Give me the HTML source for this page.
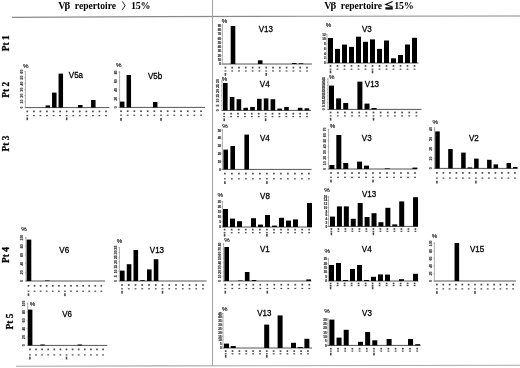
<!DOCTYPE html>
<html><head><meta charset="utf-8"><style>
html,body{margin:0;padding:0;background:#fff;overflow:hidden;width:520px;height:368px;}
svg{display:block;filter:blur(0.35px);}
.hd{font-family:"Liberation Serif",serif;font-weight:bold;font-size:10px;fill:#000;}
.pt{font-family:"Liberation Serif",serif;font-weight:bold;font-size:9.4px;fill:#000;stroke:#000;stroke-width:0.25px;}
.ti{font-family:"Liberation Sans",sans-serif;font-size:8.8px;fill:#000;stroke:#000;stroke-width:0.3px;}
.pc{font-family:"Liberation Sans",sans-serif;font-size:6.2px;fill:#000;stroke:#000;stroke-width:0.12px;}
.yt{font-family:"Liberation Sans",sans-serif;font-weight:bold;font-size:3.4px;fill:#222;stroke:#444;stroke-width:0.2px;text-anchor:middle;}
.yt[text-anchor=end]{text-anchor:end;}
.xd{fill:#4a4a4a;}
</style></head><body>
<svg width="520" height="368" viewBox="0 0 520 368">
<rect width="520" height="368" fill="#fff"/>
<polyline points="12,17.35 158,16.6 308,16.25 520,16.0" fill="none" stroke="#8a8a8a" stroke-width="1.1"/>
<line x1="212.5" y1="0" x2="212.5" y2="366" stroke="#a0a0a0" stroke-width="1"/>
<polyline points="16,366.3 160,365.9 520,365.3" fill="none" stroke="#a8a8a8" stroke-width="1.1"/>
<text x="58.2" y="9" class="hd">V</text>
<text x="64.6" y="9" class="hd" style="font-size:11px">β</text>
<text x="74.8" y="9" class="hd" textLength="41.3" lengthAdjust="spacingAndGlyphs">repertoire</text>
<text x="324.2" y="9" class="hd">V</text>
<text x="330.6" y="9" class="hd" style="font-size:11px">β</text>
<text x="340.8" y="9" class="hd" textLength="41.3" lengthAdjust="spacingAndGlyphs">repertoire</text>
<path d="M122.2 1.4 Q124.2 4 125 5.6 Q124.2 7.4 122.2 9.8" fill="none" stroke="#000" stroke-width="0.9"/>
<text x="131.0" y="9" class="hd" letter-spacing="-0.2">15%</text>
<path d="M392.6 1.6 L385.7 4.4 L392.6 7.0" fill="none" stroke="#000" stroke-width="1.1"/>
<rect x="385.4" y="7.2" width="7.4" height="2.4" fill="#111"/>
<text x="394.3" y="9" class="hd" letter-spacing="-0.25">15%</text>
<text transform="translate(8.6,43.2) rotate(-90)" class="pt" text-anchor="middle">Pt 1</text>
<text transform="translate(8.6,89.8) rotate(-90)" class="pt" text-anchor="middle">Pt 2</text>
<text transform="translate(8.6,143.5) rotate(-90)" class="pt" text-anchor="middle">Pt 3</text>
<text transform="translate(8.6,255) rotate(-90)" class="pt" text-anchor="middle">Pt 4</text>
<text transform="translate(12.8,321.6) rotate(-90)" class="pt" text-anchor="middle">Pt 5</text>
<line x1="222.4" y1="24" x2="222.4" y2="64.5" stroke="#777" stroke-width="0.6"/>
<line x1="222.4" y1="64" x2="312" y2="64" stroke="#555" stroke-width="1.0"/>
<line x1="221.4" y1="25.80" x2="222.4" y2="25.80" stroke="#777" stroke-width="0.5"/>
<text x="221.10" y="26.90" class="yt" text-anchor="end" style="font-size:3.1px">90</text>
<line x1="221.4" y1="30.04" x2="222.4" y2="30.04" stroke="#777" stroke-width="0.5"/>
<text x="221.10" y="31.14" class="yt" text-anchor="end" style="font-size:3.1px">80</text>
<line x1="221.4" y1="34.29" x2="222.4" y2="34.29" stroke="#777" stroke-width="0.5"/>
<text x="221.10" y="35.39" class="yt" text-anchor="end" style="font-size:3.1px">70</text>
<line x1="221.4" y1="38.53" x2="222.4" y2="38.53" stroke="#777" stroke-width="0.5"/>
<text x="221.10" y="39.63" class="yt" text-anchor="end" style="font-size:3.1px">60</text>
<line x1="221.4" y1="42.78" x2="222.4" y2="42.78" stroke="#777" stroke-width="0.5"/>
<text x="221.10" y="43.88" class="yt" text-anchor="end" style="font-size:3.1px">50</text>
<line x1="221.4" y1="47.02" x2="222.4" y2="47.02" stroke="#777" stroke-width="0.5"/>
<text x="221.10" y="48.12" class="yt" text-anchor="end" style="font-size:3.1px">40</text>
<line x1="221.4" y1="51.27" x2="222.4" y2="51.27" stroke="#777" stroke-width="0.5"/>
<text x="221.10" y="52.37" class="yt" text-anchor="end" style="font-size:3.1px">30</text>
<line x1="221.4" y1="55.51" x2="222.4" y2="55.51" stroke="#777" stroke-width="0.5"/>
<text x="221.10" y="56.61" class="yt" text-anchor="end" style="font-size:3.1px">20</text>
<line x1="221.4" y1="59.76" x2="222.4" y2="59.76" stroke="#777" stroke-width="0.5"/>
<text x="221.10" y="60.86" class="yt" text-anchor="end" style="font-size:3.1px">10</text>
<line x1="221.4" y1="64.00" x2="222.4" y2="64.00" stroke="#777" stroke-width="0.5"/>
<text x="221.10" y="65.10" class="yt" text-anchor="end" style="font-size:3.1px">0</text>
<rect x="230.70" y="26" width="4.6" height="38.00" fill="#000"/>
<rect x="257.90" y="60.3" width="4.6" height="3.70" fill="#000"/>
<rect x="291.90" y="63" width="4.6" height="1.00" fill="#000"/>
<rect x="298.70" y="63.3" width="4.6" height="0.70" fill="#000"/>
<rect x="224.55" y="66.75" width="1.7" height="1.7" class="xd"/>
<rect x="224.50" y="70.40" width="1.8" height="1.2" class="xd"/>
<rect x="224.60" y="73.00" width="1.6" height="2.8" class="xd"/>
<rect x="231.35" y="66.75" width="1.7" height="1.7" class="xd"/>
<rect x="231.30" y="70.40" width="1.8" height="1.2" class="xd"/>
<rect x="238.15" y="66.75" width="1.7" height="1.7" class="xd"/>
<rect x="238.10" y="70.40" width="1.8" height="1.2" class="xd"/>
<rect x="244.95" y="66.75" width="1.7" height="1.7" class="xd"/>
<rect x="244.90" y="70.40" width="1.8" height="1.2" class="xd"/>
<rect x="251.75" y="66.75" width="1.7" height="1.7" class="xd"/>
<rect x="251.70" y="70.40" width="1.8" height="1.2" class="xd"/>
<rect x="258.55" y="66.75" width="1.7" height="1.7" class="xd"/>
<rect x="258.50" y="70.40" width="1.8" height="1.2" class="xd"/>
<rect x="265.35" y="66.75" width="1.7" height="1.7" class="xd"/>
<rect x="265.30" y="70.40" width="1.8" height="1.2" class="xd"/>
<rect x="265.40" y="73.00" width="1.6" height="2.8" class="xd"/>
<rect x="272.15" y="66.75" width="1.7" height="1.7" class="xd"/>
<rect x="272.10" y="70.40" width="1.8" height="1.2" class="xd"/>
<rect x="278.95" y="66.75" width="1.7" height="1.7" class="xd"/>
<rect x="278.90" y="70.40" width="1.8" height="1.2" class="xd"/>
<rect x="285.75" y="66.75" width="1.7" height="1.7" class="xd"/>
<rect x="285.70" y="70.40" width="1.8" height="1.2" class="xd"/>
<rect x="292.55" y="66.75" width="1.7" height="1.7" class="xd"/>
<rect x="292.50" y="70.40" width="1.8" height="1.2" class="xd"/>
<rect x="299.35" y="66.75" width="1.7" height="1.7" class="xd"/>
<rect x="299.30" y="70.40" width="1.8" height="1.2" class="xd"/>
<rect x="306.15" y="66.75" width="1.7" height="1.7" class="xd"/>
<rect x="306.10" y="70.40" width="1.8" height="1.2" class="xd"/>
<text x="224.60" y="22.70" class="pc" text-anchor="middle">%</text>
<text transform="translate(265.90,31.80) scale(0.91,1)" class="ti" text-anchor="middle">V13</text>
<line x1="327" y1="33.6" x2="327" y2="63.5" stroke="#777" stroke-width="0.6"/>
<line x1="327" y1="63" x2="418.5" y2="63" stroke="#555" stroke-width="1.0"/>
<line x1="326" y1="34.40" x2="327" y2="34.40" stroke="#777" stroke-width="0.5"/>
<text x="325.70" y="35.50" class="yt" text-anchor="end" style="font-size:3.1px">12</text>
<line x1="326" y1="39.17" x2="327" y2="39.17" stroke="#777" stroke-width="0.5"/>
<text x="325.70" y="40.27" class="yt" text-anchor="end" style="font-size:3.1px">10</text>
<line x1="326" y1="43.93" x2="327" y2="43.93" stroke="#777" stroke-width="0.5"/>
<text x="325.70" y="45.03" class="yt" text-anchor="end" style="font-size:3.1px">8</text>
<line x1="326" y1="48.70" x2="327" y2="48.70" stroke="#777" stroke-width="0.5"/>
<text x="325.70" y="49.80" class="yt" text-anchor="end" style="font-size:3.1px">6</text>
<line x1="326" y1="53.47" x2="327" y2="53.47" stroke="#777" stroke-width="0.5"/>
<text x="325.70" y="54.57" class="yt" text-anchor="end" style="font-size:3.1px">4</text>
<line x1="326" y1="58.23" x2="327" y2="58.23" stroke="#777" stroke-width="0.5"/>
<text x="325.70" y="59.33" class="yt" text-anchor="end" style="font-size:3.1px">2</text>
<line x1="326" y1="63.00" x2="327" y2="63.00" stroke="#777" stroke-width="0.5"/>
<text x="325.70" y="64.10" class="yt" text-anchor="end" style="font-size:3.1px">0</text>
<rect x="328.00" y="38.0" width="5" height="25.00" fill="#000"/>
<rect x="335.00" y="48.9" width="5" height="14.10" fill="#000"/>
<rect x="342.00" y="44.6" width="5" height="18.40" fill="#000"/>
<rect x="349.00" y="46.9" width="5" height="16.10" fill="#000"/>
<rect x="356.00" y="36.7" width="5" height="26.30" fill="#000"/>
<rect x="363.00" y="41.8" width="5" height="21.20" fill="#000"/>
<rect x="370.00" y="39.4" width="5" height="23.60" fill="#000"/>
<rect x="377.00" y="48.9" width="5" height="14.10" fill="#000"/>
<rect x="384.00" y="40.5" width="5" height="22.50" fill="#000"/>
<rect x="391.00" y="58.3" width="5" height="4.70" fill="#000"/>
<rect x="398.00" y="55.0" width="5" height="8.00" fill="#000"/>
<rect x="405.00" y="44.5" width="5" height="18.50" fill="#000"/>
<rect x="412.00" y="37.8" width="5" height="25.20" fill="#000"/>
<rect x="329.65" y="65.05" width="1.7" height="1.7" class="xd"/>
<rect x="329.60" y="68.60" width="1.8" height="1.2" class="xd"/>
<rect x="329.70" y="70.50" width="1.6" height="2.8" class="xd"/>
<rect x="336.65" y="65.05" width="1.7" height="1.7" class="xd"/>
<rect x="336.60" y="68.60" width="1.8" height="1.2" class="xd"/>
<rect x="343.65" y="65.05" width="1.7" height="1.7" class="xd"/>
<rect x="343.60" y="68.60" width="1.8" height="1.2" class="xd"/>
<rect x="350.65" y="65.05" width="1.7" height="1.7" class="xd"/>
<rect x="350.60" y="68.60" width="1.8" height="1.2" class="xd"/>
<rect x="357.65" y="65.05" width="1.7" height="1.7" class="xd"/>
<rect x="357.60" y="68.60" width="1.8" height="1.2" class="xd"/>
<rect x="364.65" y="65.05" width="1.7" height="1.7" class="xd"/>
<rect x="364.60" y="68.60" width="1.8" height="1.2" class="xd"/>
<rect x="371.65" y="65.05" width="1.7" height="1.7" class="xd"/>
<rect x="371.60" y="68.60" width="1.8" height="1.2" class="xd"/>
<rect x="371.70" y="70.50" width="1.6" height="2.8" class="xd"/>
<rect x="378.65" y="65.05" width="1.7" height="1.7" class="xd"/>
<rect x="378.60" y="68.60" width="1.8" height="1.2" class="xd"/>
<rect x="385.65" y="65.05" width="1.7" height="1.7" class="xd"/>
<rect x="385.60" y="68.60" width="1.8" height="1.2" class="xd"/>
<rect x="392.65" y="65.05" width="1.7" height="1.7" class="xd"/>
<rect x="392.60" y="68.60" width="1.8" height="1.2" class="xd"/>
<rect x="399.65" y="65.05" width="1.7" height="1.7" class="xd"/>
<rect x="399.60" y="68.60" width="1.8" height="1.2" class="xd"/>
<rect x="406.65" y="65.05" width="1.7" height="1.7" class="xd"/>
<rect x="406.60" y="68.60" width="1.8" height="1.2" class="xd"/>
<rect x="413.65" y="65.05" width="1.7" height="1.7" class="xd"/>
<rect x="413.60" y="68.60" width="1.8" height="1.2" class="xd"/>
<text x="328.40" y="27.20" class="pc" text-anchor="middle">%</text>
<text transform="translate(366.85,31.50) scale(0.91,1)" class="ti" text-anchor="middle">V3</text>
<line x1="222" y1="80" x2="222" y2="110.9" stroke="#777" stroke-width="0.6"/>
<line x1="222" y1="110.4" x2="311" y2="110.4" stroke="#555" stroke-width="1.0"/>
<line x1="221" y1="81.00" x2="222" y2="81.00" stroke="#777" stroke-width="0.5"/>
<text transform="translate(219.20,81.00) rotate(-90)" class="yt">30</text>
<line x1="221" y1="85.90" x2="222" y2="85.90" stroke="#777" stroke-width="0.5"/>
<text transform="translate(219.20,85.90) rotate(-90)" class="yt">25</text>
<line x1="221" y1="90.80" x2="222" y2="90.80" stroke="#777" stroke-width="0.5"/>
<text transform="translate(219.20,90.80) rotate(-90)" class="yt">20</text>
<line x1="221" y1="95.70" x2="222" y2="95.70" stroke="#777" stroke-width="0.5"/>
<text transform="translate(219.20,95.70) rotate(-90)" class="yt">15</text>
<line x1="221" y1="100.60" x2="222" y2="100.60" stroke="#777" stroke-width="0.5"/>
<text transform="translate(219.20,100.60) rotate(-90)" class="yt">10</text>
<line x1="221" y1="105.50" x2="222" y2="105.50" stroke="#777" stroke-width="0.5"/>
<text transform="translate(219.20,105.50) rotate(-90)" class="yt">5</text>
<line x1="221" y1="110.40" x2="222" y2="110.40" stroke="#777" stroke-width="0.5"/>
<text transform="translate(219.20,110.40) rotate(-90)" class="yt">0</text>
<rect x="223.00" y="83" width="4.6" height="27.40" fill="#000"/>
<rect x="229.80" y="97" width="4.6" height="13.40" fill="#000"/>
<rect x="236.60" y="99.2" width="4.6" height="11.20" fill="#000"/>
<rect x="243.40" y="107.8" width="4.6" height="2.60" fill="#000"/>
<rect x="250.20" y="107" width="4.6" height="3.40" fill="#000"/>
<rect x="257.00" y="98.8" width="4.6" height="11.60" fill="#000"/>
<rect x="263.80" y="98.4" width="4.6" height="12.00" fill="#000"/>
<rect x="270.60" y="99.2" width="4.6" height="11.20" fill="#000"/>
<rect x="277.40" y="108.6" width="4.6" height="1.80" fill="#000"/>
<rect x="284.20" y="107" width="4.6" height="3.40" fill="#000"/>
<rect x="297.80" y="107.8" width="4.6" height="2.60" fill="#000"/>
<rect x="304.60" y="108.3" width="4.6" height="2.10" fill="#000"/>
<rect x="223.35" y="112.85" width="1.7" height="1.7" class="xd"/>
<rect x="223.30" y="116.00" width="1.8" height="1.2" class="xd"/>
<rect x="223.40" y="118.40" width="1.6" height="2.8" class="xd"/>
<rect x="230.25" y="112.85" width="1.7" height="1.7" class="xd"/>
<rect x="230.20" y="116.00" width="1.8" height="1.2" class="xd"/>
<rect x="237.15" y="112.85" width="1.7" height="1.7" class="xd"/>
<rect x="237.10" y="116.00" width="1.8" height="1.2" class="xd"/>
<rect x="244.05" y="112.85" width="1.7" height="1.7" class="xd"/>
<rect x="244.00" y="116.00" width="1.8" height="1.2" class="xd"/>
<rect x="250.95" y="112.85" width="1.7" height="1.7" class="xd"/>
<rect x="250.90" y="116.00" width="1.8" height="1.2" class="xd"/>
<rect x="257.85" y="112.85" width="1.7" height="1.7" class="xd"/>
<rect x="257.80" y="116.00" width="1.8" height="1.2" class="xd"/>
<rect x="264.75" y="112.85" width="1.7" height="1.7" class="xd"/>
<rect x="264.70" y="116.00" width="1.8" height="1.2" class="xd"/>
<rect x="264.80" y="118.40" width="1.6" height="2.8" class="xd"/>
<rect x="271.65" y="112.85" width="1.7" height="1.7" class="xd"/>
<rect x="271.60" y="116.00" width="1.8" height="1.2" class="xd"/>
<rect x="278.55" y="112.85" width="1.7" height="1.7" class="xd"/>
<rect x="278.50" y="116.00" width="1.8" height="1.2" class="xd"/>
<rect x="285.45" y="112.85" width="1.7" height="1.7" class="xd"/>
<rect x="285.40" y="116.00" width="1.8" height="1.2" class="xd"/>
<rect x="292.35" y="112.85" width="1.7" height="1.7" class="xd"/>
<rect x="292.30" y="116.00" width="1.8" height="1.2" class="xd"/>
<rect x="299.25" y="112.85" width="1.7" height="1.7" class="xd"/>
<rect x="299.20" y="116.00" width="1.8" height="1.2" class="xd"/>
<rect x="306.15" y="112.85" width="1.7" height="1.7" class="xd"/>
<rect x="306.10" y="116.00" width="1.8" height="1.2" class="xd"/>
<text x="224.60" y="81.10" class="pc" text-anchor="middle">%</text>
<text transform="translate(264.70,87.10) scale(0.91,1)" class="ti" text-anchor="middle">V4</text>
<line x1="328" y1="78" x2="328" y2="109.9" stroke="#777" stroke-width="0.6"/>
<line x1="328" y1="109.4" x2="421.5" y2="109.4" stroke="#555" stroke-width="1.0"/>
<line x1="327" y1="79.00" x2="328" y2="79.00" stroke="#777" stroke-width="0.5"/>
<text transform="translate(325.20,79.00) rotate(-90)" class="yt">45</text>
<line x1="327" y1="82.38" x2="328" y2="82.38" stroke="#777" stroke-width="0.5"/>
<text transform="translate(325.20,82.38) rotate(-90)" class="yt">40</text>
<line x1="327" y1="85.76" x2="328" y2="85.76" stroke="#777" stroke-width="0.5"/>
<text transform="translate(325.20,85.76) rotate(-90)" class="yt">35</text>
<line x1="327" y1="89.13" x2="328" y2="89.13" stroke="#777" stroke-width="0.5"/>
<text transform="translate(325.20,89.13) rotate(-90)" class="yt">30</text>
<line x1="327" y1="92.51" x2="328" y2="92.51" stroke="#777" stroke-width="0.5"/>
<text transform="translate(325.20,92.51) rotate(-90)" class="yt">25</text>
<line x1="327" y1="95.89" x2="328" y2="95.89" stroke="#777" stroke-width="0.5"/>
<text transform="translate(325.20,95.89) rotate(-90)" class="yt">20</text>
<line x1="327" y1="99.27" x2="328" y2="99.27" stroke="#777" stroke-width="0.5"/>
<text transform="translate(325.20,99.27) rotate(-90)" class="yt">15</text>
<line x1="327" y1="102.64" x2="328" y2="102.64" stroke="#777" stroke-width="0.5"/>
<text transform="translate(325.20,102.64) rotate(-90)" class="yt">10</text>
<line x1="327" y1="106.02" x2="328" y2="106.02" stroke="#777" stroke-width="0.5"/>
<text transform="translate(325.20,106.02) rotate(-90)" class="yt">5</text>
<line x1="327" y1="109.40" x2="328" y2="109.40" stroke="#777" stroke-width="0.5"/>
<text transform="translate(325.20,109.40) rotate(-90)" class="yt">0</text>
<rect x="329.00" y="85.6" width="5" height="23.80" fill="#000"/>
<rect x="336.10" y="98.4" width="5" height="11.00" fill="#000"/>
<rect x="343.20" y="103" width="5" height="6.40" fill="#000"/>
<rect x="357.40" y="81.6" width="5" height="27.80" fill="#000"/>
<rect x="364.50" y="103.6" width="5" height="5.80" fill="#000"/>
<rect x="371.60" y="108" width="5" height="1.40" fill="#000"/>
<rect x="329.75" y="111.65" width="1.7" height="1.7" class="xd"/>
<rect x="329.70" y="115.30" width="1.8" height="1.2" class="xd"/>
<rect x="329.80" y="117.80" width="1.6" height="2.8" class="xd"/>
<rect x="336.90" y="111.65" width="1.7" height="1.7" class="xd"/>
<rect x="336.85" y="115.30" width="1.8" height="1.2" class="xd"/>
<rect x="344.05" y="111.65" width="1.7" height="1.7" class="xd"/>
<rect x="344.00" y="115.30" width="1.8" height="1.2" class="xd"/>
<rect x="351.20" y="111.65" width="1.7" height="1.7" class="xd"/>
<rect x="351.15" y="115.30" width="1.8" height="1.2" class="xd"/>
<rect x="358.35" y="111.65" width="1.7" height="1.7" class="xd"/>
<rect x="358.30" y="115.30" width="1.8" height="1.2" class="xd"/>
<rect x="365.50" y="111.65" width="1.7" height="1.7" class="xd"/>
<rect x="365.45" y="115.30" width="1.8" height="1.2" class="xd"/>
<rect x="372.65" y="111.65" width="1.7" height="1.7" class="xd"/>
<rect x="372.60" y="115.30" width="1.8" height="1.2" class="xd"/>
<rect x="372.70" y="117.80" width="1.6" height="2.8" class="xd"/>
<rect x="379.80" y="111.65" width="1.7" height="1.7" class="xd"/>
<rect x="379.75" y="115.30" width="1.8" height="1.2" class="xd"/>
<rect x="386.95" y="111.65" width="1.7" height="1.7" class="xd"/>
<rect x="386.90" y="115.30" width="1.8" height="1.2" class="xd"/>
<rect x="394.10" y="111.65" width="1.7" height="1.7" class="xd"/>
<rect x="394.05" y="115.30" width="1.8" height="1.2" class="xd"/>
<rect x="401.25" y="111.65" width="1.7" height="1.7" class="xd"/>
<rect x="401.20" y="115.30" width="1.8" height="1.2" class="xd"/>
<rect x="408.40" y="111.65" width="1.7" height="1.7" class="xd"/>
<rect x="408.35" y="115.30" width="1.8" height="1.2" class="xd"/>
<rect x="415.55" y="111.65" width="1.7" height="1.7" class="xd"/>
<rect x="415.50" y="115.30" width="1.8" height="1.2" class="xd"/>
<text x="331.70" y="79.30" class="pc" text-anchor="middle">%</text>
<text transform="translate(371.95,87.10) scale(0.91,1)" class="ti" text-anchor="middle">V13</text>
<line x1="222.4" y1="129" x2="222.4" y2="169.9" stroke="#777" stroke-width="0.6"/>
<line x1="222.4" y1="169.4" x2="311.6" y2="169.4" stroke="#555" stroke-width="1.0"/>
<line x1="221.4" y1="130.40" x2="222.4" y2="130.40" stroke="#777" stroke-width="0.5"/>
<text x="221.10" y="131.50" class="yt" text-anchor="end" style="font-size:3.1px">50</text>
<line x1="221.4" y1="138.20" x2="222.4" y2="138.20" stroke="#777" stroke-width="0.5"/>
<text x="221.10" y="139.30" class="yt" text-anchor="end" style="font-size:3.1px">40</text>
<line x1="221.4" y1="146.00" x2="222.4" y2="146.00" stroke="#777" stroke-width="0.5"/>
<text x="221.10" y="147.10" class="yt" text-anchor="end" style="font-size:3.1px">30</text>
<line x1="221.4" y1="153.80" x2="222.4" y2="153.80" stroke="#777" stroke-width="0.5"/>
<text x="221.10" y="154.90" class="yt" text-anchor="end" style="font-size:3.1px">20</text>
<line x1="221.4" y1="161.60" x2="222.4" y2="161.60" stroke="#777" stroke-width="0.5"/>
<text x="221.10" y="162.70" class="yt" text-anchor="end" style="font-size:3.1px">10</text>
<line x1="221.4" y1="169.40" x2="222.4" y2="169.40" stroke="#777" stroke-width="0.5"/>
<text x="221.10" y="170.50" class="yt" text-anchor="end" style="font-size:3.1px">0</text>
<rect x="223.40" y="149.6" width="4.6" height="19.80" fill="#000"/>
<rect x="230.40" y="146" width="4.6" height="23.40" fill="#000"/>
<rect x="244.40" y="134.6" width="4.6" height="34.80" fill="#000"/>
<rect x="224.05" y="172.75" width="1.7" height="1.7" class="xd"/>
<rect x="224.00" y="178.20" width="1.8" height="1.2" class="xd"/>
<rect x="224.10" y="181.20" width="1.6" height="2.8" class="xd"/>
<rect x="231.05" y="172.75" width="1.7" height="1.7" class="xd"/>
<rect x="231.00" y="178.20" width="1.8" height="1.2" class="xd"/>
<rect x="238.05" y="172.75" width="1.7" height="1.7" class="xd"/>
<rect x="238.00" y="178.20" width="1.8" height="1.2" class="xd"/>
<rect x="245.05" y="172.75" width="1.7" height="1.7" class="xd"/>
<rect x="245.00" y="178.20" width="1.8" height="1.2" class="xd"/>
<rect x="252.05" y="172.75" width="1.7" height="1.7" class="xd"/>
<rect x="252.00" y="178.20" width="1.8" height="1.2" class="xd"/>
<rect x="259.05" y="172.75" width="1.7" height="1.7" class="xd"/>
<rect x="259.00" y="178.20" width="1.8" height="1.2" class="xd"/>
<rect x="266.05" y="172.75" width="1.7" height="1.7" class="xd"/>
<rect x="266.00" y="178.20" width="1.8" height="1.2" class="xd"/>
<rect x="266.10" y="181.20" width="1.6" height="2.8" class="xd"/>
<rect x="273.05" y="172.75" width="1.7" height="1.7" class="xd"/>
<rect x="273.00" y="178.20" width="1.8" height="1.2" class="xd"/>
<rect x="280.05" y="172.75" width="1.7" height="1.7" class="xd"/>
<rect x="280.00" y="178.20" width="1.8" height="1.2" class="xd"/>
<rect x="287.05" y="172.75" width="1.7" height="1.7" class="xd"/>
<rect x="287.00" y="178.20" width="1.8" height="1.2" class="xd"/>
<rect x="294.05" y="172.75" width="1.7" height="1.7" class="xd"/>
<rect x="294.00" y="178.20" width="1.8" height="1.2" class="xd"/>
<rect x="301.05" y="172.75" width="1.7" height="1.7" class="xd"/>
<rect x="301.00" y="178.20" width="1.8" height="1.2" class="xd"/>
<rect x="308.05" y="172.75" width="1.7" height="1.7" class="xd"/>
<rect x="308.00" y="178.20" width="1.8" height="1.2" class="xd"/>
<text x="224.90" y="127.70" class="pc" text-anchor="middle">%</text>
<text transform="translate(264.85,140.80) scale(0.91,1)" class="ti" text-anchor="middle">V4</text>
<line x1="328.6" y1="129" x2="328.6" y2="169.5" stroke="#777" stroke-width="0.6"/>
<line x1="328.6" y1="169" x2="417" y2="169" stroke="#555" stroke-width="1.0"/>
<line x1="327.6" y1="129.40" x2="328.6" y2="129.40" stroke="#777" stroke-width="0.5"/>
<text transform="translate(325.80,129.40) rotate(-90)" class="yt">70</text>
<line x1="327.6" y1="135.06" x2="328.6" y2="135.06" stroke="#777" stroke-width="0.5"/>
<text transform="translate(325.80,135.06) rotate(-90)" class="yt">60</text>
<line x1="327.6" y1="140.71" x2="328.6" y2="140.71" stroke="#777" stroke-width="0.5"/>
<text transform="translate(325.80,140.71) rotate(-90)" class="yt">50</text>
<line x1="327.6" y1="146.37" x2="328.6" y2="146.37" stroke="#777" stroke-width="0.5"/>
<text transform="translate(325.80,146.37) rotate(-90)" class="yt">40</text>
<line x1="327.6" y1="152.03" x2="328.6" y2="152.03" stroke="#777" stroke-width="0.5"/>
<text transform="translate(325.80,152.03) rotate(-90)" class="yt">30</text>
<line x1="327.6" y1="157.69" x2="328.6" y2="157.69" stroke="#777" stroke-width="0.5"/>
<text transform="translate(325.80,157.69) rotate(-90)" class="yt">20</text>
<line x1="327.6" y1="163.34" x2="328.6" y2="163.34" stroke="#777" stroke-width="0.5"/>
<text transform="translate(325.80,163.34) rotate(-90)" class="yt">10</text>
<line x1="327.6" y1="169.00" x2="328.6" y2="169.00" stroke="#777" stroke-width="0.5"/>
<text transform="translate(325.80,169.00) rotate(-90)" class="yt">0</text>
<rect x="329.40" y="165" width="5" height="4.00" fill="#000"/>
<rect x="336.32" y="135" width="5" height="34.00" fill="#000"/>
<rect x="343.24" y="163" width="5" height="6.00" fill="#000"/>
<rect x="357.08" y="161.6" width="5" height="7.40" fill="#000"/>
<rect x="364.00" y="165.6" width="5" height="3.40" fill="#000"/>
<rect x="384.76" y="168.4" width="5" height="0.60" fill="#000"/>
<rect x="412.44" y="167.6" width="5" height="1.40" fill="#000"/>
<rect x="330.15" y="172.15" width="1.7" height="1.7" class="xd"/>
<rect x="330.10" y="176.70" width="1.8" height="1.2" class="xd"/>
<rect x="330.20" y="179.70" width="1.6" height="2.8" class="xd"/>
<rect x="337.15" y="172.15" width="1.7" height="1.7" class="xd"/>
<rect x="337.10" y="176.70" width="1.8" height="1.2" class="xd"/>
<rect x="344.15" y="172.15" width="1.7" height="1.7" class="xd"/>
<rect x="344.10" y="176.70" width="1.8" height="1.2" class="xd"/>
<rect x="351.15" y="172.15" width="1.7" height="1.7" class="xd"/>
<rect x="351.10" y="176.70" width="1.8" height="1.2" class="xd"/>
<rect x="358.15" y="172.15" width="1.7" height="1.7" class="xd"/>
<rect x="358.10" y="176.70" width="1.8" height="1.2" class="xd"/>
<rect x="365.15" y="172.15" width="1.7" height="1.7" class="xd"/>
<rect x="365.10" y="176.70" width="1.8" height="1.2" class="xd"/>
<rect x="372.15" y="172.15" width="1.7" height="1.7" class="xd"/>
<rect x="372.10" y="176.70" width="1.8" height="1.2" class="xd"/>
<rect x="372.20" y="179.70" width="1.6" height="2.8" class="xd"/>
<rect x="379.15" y="172.15" width="1.7" height="1.7" class="xd"/>
<rect x="379.10" y="176.70" width="1.8" height="1.2" class="xd"/>
<rect x="386.15" y="172.15" width="1.7" height="1.7" class="xd"/>
<rect x="386.10" y="176.70" width="1.8" height="1.2" class="xd"/>
<rect x="393.15" y="172.15" width="1.7" height="1.7" class="xd"/>
<rect x="393.10" y="176.70" width="1.8" height="1.2" class="xd"/>
<rect x="400.15" y="172.15" width="1.7" height="1.7" class="xd"/>
<rect x="400.10" y="176.70" width="1.8" height="1.2" class="xd"/>
<rect x="407.15" y="172.15" width="1.7" height="1.7" class="xd"/>
<rect x="407.10" y="176.70" width="1.8" height="1.2" class="xd"/>
<rect x="414.15" y="172.15" width="1.7" height="1.7" class="xd"/>
<rect x="414.10" y="176.70" width="1.8" height="1.2" class="xd"/>
<text x="332.50" y="128.20" class="pc" text-anchor="middle">%</text>
<text transform="translate(366.70,140.65) scale(0.91,1)" class="ti" text-anchor="middle">V3</text>
<line x1="434.6" y1="127" x2="434.6" y2="168.9" stroke="#777" stroke-width="0.6"/>
<line x1="434.6" y1="168.4" x2="517.6" y2="168.4" stroke="#555" stroke-width="1.0"/>
<line x1="433.6" y1="129.00" x2="434.6" y2="129.00" stroke="#777" stroke-width="0.5"/>
<text transform="translate(431.80,129.00) rotate(-90)" class="yt">40</text>
<line x1="433.6" y1="138.85" x2="434.6" y2="138.85" stroke="#777" stroke-width="0.5"/>
<text transform="translate(431.80,138.85) rotate(-90)" class="yt">30</text>
<line x1="433.6" y1="148.70" x2="434.6" y2="148.70" stroke="#777" stroke-width="0.5"/>
<text transform="translate(431.80,148.70) rotate(-90)" class="yt">20</text>
<line x1="433.6" y1="158.55" x2="434.6" y2="158.55" stroke="#777" stroke-width="0.5"/>
<text transform="translate(431.80,158.55) rotate(-90)" class="yt">10</text>
<line x1="433.6" y1="168.40" x2="434.6" y2="168.40" stroke="#777" stroke-width="0.5"/>
<text transform="translate(431.80,168.40) rotate(-90)" class="yt">0</text>
<rect x="435.25" y="131.4" width="4.5" height="37.00" fill="#000"/>
<rect x="448.21" y="149" width="4.5" height="19.40" fill="#000"/>
<rect x="461.17" y="152.6" width="4.5" height="15.80" fill="#000"/>
<rect x="467.65" y="167.4" width="4.5" height="1.00" fill="#000"/>
<rect x="474.13" y="158.6" width="4.5" height="9.80" fill="#000"/>
<rect x="487.09" y="159.8" width="4.5" height="8.60" fill="#000"/>
<rect x="493.57" y="164.4" width="4.5" height="4.00" fill="#000"/>
<rect x="506.53" y="163" width="4.5" height="5.40" fill="#000"/>
<rect x="513.01" y="167" width="4.5" height="1.40" fill="#000"/>
<rect x="436.05" y="172.05" width="1.7" height="1.7" class="xd"/>
<rect x="436.00" y="177.50" width="1.8" height="1.2" class="xd"/>
<rect x="436.10" y="180.70" width="1.6" height="2.8" class="xd"/>
<rect x="442.55" y="172.05" width="1.7" height="1.7" class="xd"/>
<rect x="442.50" y="177.50" width="1.8" height="1.2" class="xd"/>
<rect x="449.05" y="172.05" width="1.7" height="1.7" class="xd"/>
<rect x="449.00" y="177.50" width="1.8" height="1.2" class="xd"/>
<rect x="455.55" y="172.05" width="1.7" height="1.7" class="xd"/>
<rect x="455.50" y="177.50" width="1.8" height="1.2" class="xd"/>
<rect x="462.05" y="172.05" width="1.7" height="1.7" class="xd"/>
<rect x="462.00" y="177.50" width="1.8" height="1.2" class="xd"/>
<rect x="468.55" y="172.05" width="1.7" height="1.7" class="xd"/>
<rect x="468.50" y="177.50" width="1.8" height="1.2" class="xd"/>
<rect x="475.05" y="172.05" width="1.7" height="1.7" class="xd"/>
<rect x="475.00" y="177.50" width="1.8" height="1.2" class="xd"/>
<rect x="475.10" y="180.70" width="1.6" height="2.8" class="xd"/>
<rect x="481.55" y="172.05" width="1.7" height="1.7" class="xd"/>
<rect x="481.50" y="177.50" width="1.8" height="1.2" class="xd"/>
<rect x="488.05" y="172.05" width="1.7" height="1.7" class="xd"/>
<rect x="488.00" y="177.50" width="1.8" height="1.2" class="xd"/>
<rect x="494.55" y="172.05" width="1.7" height="1.7" class="xd"/>
<rect x="494.50" y="177.50" width="1.8" height="1.2" class="xd"/>
<rect x="501.05" y="172.05" width="1.7" height="1.7" class="xd"/>
<rect x="501.00" y="177.50" width="1.8" height="1.2" class="xd"/>
<rect x="507.55" y="172.05" width="1.7" height="1.7" class="xd"/>
<rect x="507.50" y="177.50" width="1.8" height="1.2" class="xd"/>
<rect x="514.05" y="172.05" width="1.7" height="1.7" class="xd"/>
<rect x="514.00" y="177.50" width="1.8" height="1.2" class="xd"/>
<text x="435.35" y="123.55" class="pc" text-anchor="middle">%</text>
<text transform="translate(473.80,140.65) scale(0.91,1)" class="ti" text-anchor="middle">V2</text>
<line x1="222.4" y1="201" x2="222.4" y2="227.5" stroke="#777" stroke-width="0.6"/>
<line x1="222.4" y1="227" x2="312" y2="227" stroke="#555" stroke-width="1.0"/>
<line x1="221.4" y1="201.60" x2="222.4" y2="201.60" stroke="#777" stroke-width="0.5"/>
<text x="221.10" y="202.70" class="yt" text-anchor="end" style="font-size:3.1px">25</text>
<line x1="221.4" y1="206.68" x2="222.4" y2="206.68" stroke="#777" stroke-width="0.5"/>
<text x="221.10" y="207.78" class="yt" text-anchor="end" style="font-size:3.1px">20</text>
<line x1="221.4" y1="211.76" x2="222.4" y2="211.76" stroke="#777" stroke-width="0.5"/>
<text x="221.10" y="212.86" class="yt" text-anchor="end" style="font-size:3.1px">15</text>
<line x1="221.4" y1="216.84" x2="222.4" y2="216.84" stroke="#777" stroke-width="0.5"/>
<text x="221.10" y="217.94" class="yt" text-anchor="end" style="font-size:3.1px">10</text>
<line x1="221.4" y1="221.92" x2="222.4" y2="221.92" stroke="#777" stroke-width="0.5"/>
<text x="221.10" y="223.02" class="yt" text-anchor="end" style="font-size:3.1px">5</text>
<line x1="221.4" y1="227.00" x2="222.4" y2="227.00" stroke="#777" stroke-width="0.5"/>
<text x="221.10" y="228.10" class="yt" text-anchor="end" style="font-size:3.1px">0</text>
<rect x="223.00" y="209" width="5" height="18.00" fill="#000"/>
<rect x="230.00" y="218.6" width="5" height="8.40" fill="#000"/>
<rect x="237.00" y="221.2" width="5" height="5.80" fill="#000"/>
<rect x="251.00" y="218.2" width="5" height="8.80" fill="#000"/>
<rect x="258.00" y="224.6" width="5" height="2.40" fill="#000"/>
<rect x="265.00" y="215" width="5" height="12.00" fill="#000"/>
<rect x="272.00" y="225.6" width="5" height="1.40" fill="#000"/>
<rect x="279.00" y="217.8" width="5" height="9.20" fill="#000"/>
<rect x="286.00" y="220.6" width="5" height="6.40" fill="#000"/>
<rect x="293.00" y="219.4" width="5" height="7.60" fill="#000"/>
<rect x="307.00" y="203" width="5" height="24.00" fill="#000"/>
<rect x="223.75" y="228.75" width="1.7" height="1.7" class="xd"/>
<rect x="223.70" y="232.10" width="1.8" height="1.2" class="xd"/>
<rect x="223.80" y="233.80" width="1.6" height="2.8" class="xd"/>
<rect x="230.80" y="228.75" width="1.7" height="1.7" class="xd"/>
<rect x="230.75" y="232.10" width="1.8" height="1.2" class="xd"/>
<rect x="237.85" y="228.75" width="1.7" height="1.7" class="xd"/>
<rect x="237.80" y="232.10" width="1.8" height="1.2" class="xd"/>
<rect x="244.90" y="228.75" width="1.7" height="1.7" class="xd"/>
<rect x="244.85" y="232.10" width="1.8" height="1.2" class="xd"/>
<rect x="251.95" y="228.75" width="1.7" height="1.7" class="xd"/>
<rect x="251.90" y="232.10" width="1.8" height="1.2" class="xd"/>
<rect x="259.00" y="228.75" width="1.7" height="1.7" class="xd"/>
<rect x="258.95" y="232.10" width="1.8" height="1.2" class="xd"/>
<rect x="266.05" y="228.75" width="1.7" height="1.7" class="xd"/>
<rect x="266.00" y="232.10" width="1.8" height="1.2" class="xd"/>
<rect x="266.10" y="233.80" width="1.6" height="2.8" class="xd"/>
<rect x="273.10" y="228.75" width="1.7" height="1.7" class="xd"/>
<rect x="273.05" y="232.10" width="1.8" height="1.2" class="xd"/>
<rect x="280.15" y="228.75" width="1.7" height="1.7" class="xd"/>
<rect x="280.10" y="232.10" width="1.8" height="1.2" class="xd"/>
<rect x="287.20" y="228.75" width="1.7" height="1.7" class="xd"/>
<rect x="287.15" y="232.10" width="1.8" height="1.2" class="xd"/>
<rect x="294.25" y="228.75" width="1.7" height="1.7" class="xd"/>
<rect x="294.20" y="232.10" width="1.8" height="1.2" class="xd"/>
<rect x="301.30" y="228.75" width="1.7" height="1.7" class="xd"/>
<rect x="301.25" y="232.10" width="1.8" height="1.2" class="xd"/>
<rect x="308.35" y="228.75" width="1.7" height="1.7" class="xd"/>
<rect x="308.30" y="232.10" width="1.8" height="1.2" class="xd"/>
<text x="220.30" y="196.60" class="pc" text-anchor="middle">%</text>
<text transform="translate(265.00,199.10) scale(0.91,1)" class="ti" text-anchor="middle">V8</text>
<line x1="328.6" y1="196" x2="328.6" y2="226.9" stroke="#777" stroke-width="0.6"/>
<line x1="328.6" y1="226.4" x2="418" y2="226.4" stroke="#555" stroke-width="1.0"/>
<line x1="327.6" y1="196.60" x2="328.6" y2="196.60" stroke="#777" stroke-width="0.5"/>
<text x="327.30" y="197.70" class="yt" text-anchor="end" style="font-size:3.1px">16</text>
<line x1="327.6" y1="200.32" x2="328.6" y2="200.32" stroke="#777" stroke-width="0.5"/>
<text x="327.30" y="201.42" class="yt" text-anchor="end" style="font-size:3.1px">14</text>
<line x1="327.6" y1="204.05" x2="328.6" y2="204.05" stroke="#777" stroke-width="0.5"/>
<text x="327.30" y="205.15" class="yt" text-anchor="end" style="font-size:3.1px">12</text>
<line x1="327.6" y1="207.78" x2="328.6" y2="207.78" stroke="#777" stroke-width="0.5"/>
<text x="327.30" y="208.88" class="yt" text-anchor="end" style="font-size:3.1px">10</text>
<line x1="327.6" y1="211.50" x2="328.6" y2="211.50" stroke="#777" stroke-width="0.5"/>
<text x="327.30" y="212.60" class="yt" text-anchor="end" style="font-size:3.1px">8</text>
<line x1="327.6" y1="215.22" x2="328.6" y2="215.22" stroke="#777" stroke-width="0.5"/>
<text x="327.30" y="216.32" class="yt" text-anchor="end" style="font-size:3.1px">6</text>
<line x1="327.6" y1="218.95" x2="328.6" y2="218.95" stroke="#777" stroke-width="0.5"/>
<text x="327.30" y="220.05" class="yt" text-anchor="end" style="font-size:3.1px">4</text>
<line x1="327.6" y1="222.68" x2="328.6" y2="222.68" stroke="#777" stroke-width="0.5"/>
<text x="327.30" y="223.78" class="yt" text-anchor="end" style="font-size:3.1px">2</text>
<line x1="327.6" y1="226.40" x2="328.6" y2="226.40" stroke="#777" stroke-width="0.5"/>
<text x="327.30" y="227.50" class="yt" text-anchor="end" style="font-size:3.1px">0</text>
<rect x="330.00" y="216.6" width="5" height="9.80" fill="#000"/>
<rect x="336.92" y="206.4" width="5" height="20.00" fill="#000"/>
<rect x="343.84" y="206.4" width="5" height="20.00" fill="#000"/>
<rect x="350.76" y="218.8" width="5" height="7.60" fill="#000"/>
<rect x="357.68" y="203" width="5" height="23.40" fill="#000"/>
<rect x="364.60" y="217" width="5" height="9.40" fill="#000"/>
<rect x="371.52" y="213.2" width="5" height="13.20" fill="#000"/>
<rect x="378.44" y="222.2" width="5" height="4.20" fill="#000"/>
<rect x="385.36" y="207.8" width="5" height="18.60" fill="#000"/>
<rect x="392.28" y="224.4" width="5" height="2.00" fill="#000"/>
<rect x="399.20" y="201.4" width="5" height="25.00" fill="#000"/>
<rect x="413.04" y="197.2" width="5" height="29.20" fill="#000"/>
<rect x="330.55" y="228.15" width="1.7" height="1.7" class="xd"/>
<rect x="330.50" y="230.70" width="1.8" height="1.2" class="xd"/>
<rect x="330.60" y="232.40" width="1.6" height="2.8" class="xd"/>
<rect x="337.55" y="228.15" width="1.7" height="1.7" class="xd"/>
<rect x="337.50" y="230.70" width="1.8" height="1.2" class="xd"/>
<rect x="344.55" y="228.15" width="1.7" height="1.7" class="xd"/>
<rect x="344.50" y="230.70" width="1.8" height="1.2" class="xd"/>
<rect x="351.55" y="228.15" width="1.7" height="1.7" class="xd"/>
<rect x="351.50" y="230.70" width="1.8" height="1.2" class="xd"/>
<rect x="358.55" y="228.15" width="1.7" height="1.7" class="xd"/>
<rect x="358.50" y="230.70" width="1.8" height="1.2" class="xd"/>
<rect x="365.55" y="228.15" width="1.7" height="1.7" class="xd"/>
<rect x="365.50" y="230.70" width="1.8" height="1.2" class="xd"/>
<rect x="372.55" y="228.15" width="1.7" height="1.7" class="xd"/>
<rect x="372.50" y="230.70" width="1.8" height="1.2" class="xd"/>
<rect x="372.60" y="232.40" width="1.6" height="2.8" class="xd"/>
<rect x="379.55" y="228.15" width="1.7" height="1.7" class="xd"/>
<rect x="379.50" y="230.70" width="1.8" height="1.2" class="xd"/>
<rect x="386.55" y="228.15" width="1.7" height="1.7" class="xd"/>
<rect x="386.50" y="230.70" width="1.8" height="1.2" class="xd"/>
<rect x="393.55" y="228.15" width="1.7" height="1.7" class="xd"/>
<rect x="393.50" y="230.70" width="1.8" height="1.2" class="xd"/>
<rect x="400.55" y="228.15" width="1.7" height="1.7" class="xd"/>
<rect x="400.50" y="230.70" width="1.8" height="1.2" class="xd"/>
<rect x="407.55" y="228.15" width="1.7" height="1.7" class="xd"/>
<rect x="407.50" y="230.70" width="1.8" height="1.2" class="xd"/>
<rect x="414.55" y="228.15" width="1.7" height="1.7" class="xd"/>
<rect x="414.50" y="230.70" width="1.8" height="1.2" class="xd"/>
<text x="327.10" y="192.30" class="pc" text-anchor="middle">%</text>
<text transform="translate(369.00,197.25) scale(0.91,1)" class="ti" text-anchor="middle">V13</text>
<line x1="223.6" y1="243" x2="223.6" y2="281.5" stroke="#777" stroke-width="0.6"/>
<line x1="223.6" y1="281" x2="311.4" y2="281" stroke="#555" stroke-width="1.0"/>
<line x1="222.6" y1="244.40" x2="223.6" y2="244.40" stroke="#777" stroke-width="0.5"/>
<text transform="translate(220.80,244.40) rotate(-90)" class="yt">80</text>
<line x1="222.6" y1="248.97" x2="223.6" y2="248.97" stroke="#777" stroke-width="0.5"/>
<text transform="translate(220.80,248.97) rotate(-90)" class="yt">70</text>
<line x1="222.6" y1="253.55" x2="223.6" y2="253.55" stroke="#777" stroke-width="0.5"/>
<text transform="translate(220.80,253.55) rotate(-90)" class="yt">60</text>
<line x1="222.6" y1="258.12" x2="223.6" y2="258.12" stroke="#777" stroke-width="0.5"/>
<text transform="translate(220.80,258.12) rotate(-90)" class="yt">50</text>
<line x1="222.6" y1="262.70" x2="223.6" y2="262.70" stroke="#777" stroke-width="0.5"/>
<text transform="translate(220.80,262.70) rotate(-90)" class="yt">40</text>
<line x1="222.6" y1="267.27" x2="223.6" y2="267.27" stroke="#777" stroke-width="0.5"/>
<text transform="translate(220.80,267.27) rotate(-90)" class="yt">30</text>
<line x1="222.6" y1="271.85" x2="223.6" y2="271.85" stroke="#777" stroke-width="0.5"/>
<text transform="translate(220.80,271.85) rotate(-90)" class="yt">20</text>
<line x1="222.6" y1="276.43" x2="223.6" y2="276.43" stroke="#777" stroke-width="0.5"/>
<text transform="translate(220.80,276.43) rotate(-90)" class="yt">10</text>
<line x1="222.6" y1="281.00" x2="223.6" y2="281.00" stroke="#777" stroke-width="0.5"/>
<text transform="translate(220.80,281.00) rotate(-90)" class="yt">0</text>
<rect x="224.40" y="247" width="4.6" height="34.00" fill="#000"/>
<rect x="238.06" y="280.5" width="4.6" height="0.50" fill="#000"/>
<rect x="244.89" y="272" width="4.6" height="9.00" fill="#000"/>
<rect x="251.72" y="280" width="4.6" height="1.00" fill="#000"/>
<rect x="306.36" y="279.4" width="4.6" height="1.60" fill="#000"/>
<rect x="224.45" y="283.85" width="1.7" height="1.7" class="xd"/>
<rect x="224.40" y="287.90" width="1.8" height="1.2" class="xd"/>
<rect x="224.50" y="290.80" width="1.6" height="2.8" class="xd"/>
<rect x="231.45" y="283.85" width="1.7" height="1.7" class="xd"/>
<rect x="231.40" y="287.90" width="1.8" height="1.2" class="xd"/>
<rect x="238.45" y="283.85" width="1.7" height="1.7" class="xd"/>
<rect x="238.40" y="287.90" width="1.8" height="1.2" class="xd"/>
<rect x="245.45" y="283.85" width="1.7" height="1.7" class="xd"/>
<rect x="245.40" y="287.90" width="1.8" height="1.2" class="xd"/>
<rect x="252.45" y="283.85" width="1.7" height="1.7" class="xd"/>
<rect x="252.40" y="287.90" width="1.8" height="1.2" class="xd"/>
<rect x="259.45" y="283.85" width="1.7" height="1.7" class="xd"/>
<rect x="259.40" y="287.90" width="1.8" height="1.2" class="xd"/>
<rect x="266.45" y="283.85" width="1.7" height="1.7" class="xd"/>
<rect x="266.40" y="287.90" width="1.8" height="1.2" class="xd"/>
<rect x="266.50" y="290.80" width="1.6" height="2.8" class="xd"/>
<rect x="273.45" y="283.85" width="1.7" height="1.7" class="xd"/>
<rect x="273.40" y="287.90" width="1.8" height="1.2" class="xd"/>
<rect x="280.45" y="283.85" width="1.7" height="1.7" class="xd"/>
<rect x="280.40" y="287.90" width="1.8" height="1.2" class="xd"/>
<rect x="287.45" y="283.85" width="1.7" height="1.7" class="xd"/>
<rect x="287.40" y="287.90" width="1.8" height="1.2" class="xd"/>
<rect x="294.45" y="283.85" width="1.7" height="1.7" class="xd"/>
<rect x="294.40" y="287.90" width="1.8" height="1.2" class="xd"/>
<rect x="301.45" y="283.85" width="1.7" height="1.7" class="xd"/>
<rect x="301.40" y="287.90" width="1.8" height="1.2" class="xd"/>
<rect x="308.45" y="283.85" width="1.7" height="1.7" class="xd"/>
<rect x="308.40" y="287.90" width="1.8" height="1.2" class="xd"/>
<text x="226.95" y="242.15" class="pc" text-anchor="middle">%</text>
<text transform="translate(264.80,252.20) scale(0.91,1)" class="ti" text-anchor="middle">V1</text>
<line x1="328.4" y1="258" x2="328.4" y2="281.5" stroke="#777" stroke-width="0.6"/>
<line x1="328.4" y1="281" x2="418.5" y2="281" stroke="#555" stroke-width="1.0"/>
<line x1="327.4" y1="259.00" x2="328.4" y2="259.00" stroke="#777" stroke-width="0.5"/>
<text x="327.10" y="260.10" class="yt" text-anchor="end" style="font-size:3.1px">25</text>
<line x1="327.4" y1="263.40" x2="328.4" y2="263.40" stroke="#777" stroke-width="0.5"/>
<text x="327.10" y="264.50" class="yt" text-anchor="end" style="font-size:3.1px">20</text>
<line x1="327.4" y1="267.80" x2="328.4" y2="267.80" stroke="#777" stroke-width="0.5"/>
<text x="327.10" y="268.90" class="yt" text-anchor="end" style="font-size:3.1px">15</text>
<line x1="327.4" y1="272.20" x2="328.4" y2="272.20" stroke="#777" stroke-width="0.5"/>
<text x="327.10" y="273.30" class="yt" text-anchor="end" style="font-size:3.1px">10</text>
<line x1="327.4" y1="276.60" x2="328.4" y2="276.60" stroke="#777" stroke-width="0.5"/>
<text x="327.10" y="277.70" class="yt" text-anchor="end" style="font-size:3.1px">5</text>
<line x1="327.4" y1="281.00" x2="328.4" y2="281.00" stroke="#777" stroke-width="0.5"/>
<text x="327.10" y="282.10" class="yt" text-anchor="end" style="font-size:3.1px">0</text>
<rect x="329.00" y="265" width="5" height="16.00" fill="#000"/>
<rect x="336.00" y="263" width="5" height="18.00" fill="#000"/>
<rect x="343.00" y="280" width="5" height="1.00" fill="#000"/>
<rect x="350.00" y="269" width="5" height="12.00" fill="#000"/>
<rect x="357.00" y="265" width="5" height="16.00" fill="#000"/>
<rect x="364.00" y="280" width="5" height="1.00" fill="#000"/>
<rect x="371.00" y="276.8" width="5" height="4.20" fill="#000"/>
<rect x="378.00" y="274.4" width="5" height="6.60" fill="#000"/>
<rect x="385.00" y="274.6" width="5" height="6.40" fill="#000"/>
<rect x="399.00" y="279.2" width="5" height="1.80" fill="#000"/>
<rect x="413.00" y="273.8" width="5" height="7.20" fill="#000"/>
<rect x="329.75" y="282.65" width="1.7" height="1.7" class="xd"/>
<rect x="329.70" y="285.00" width="1.8" height="1.2" class="xd"/>
<rect x="329.80" y="286.50" width="1.6" height="2.8" class="xd"/>
<rect x="336.75" y="282.65" width="1.7" height="1.7" class="xd"/>
<rect x="336.70" y="285.00" width="1.8" height="1.2" class="xd"/>
<rect x="343.75" y="282.65" width="1.7" height="1.7" class="xd"/>
<rect x="343.70" y="285.00" width="1.8" height="1.2" class="xd"/>
<rect x="350.75" y="282.65" width="1.7" height="1.7" class="xd"/>
<rect x="350.70" y="285.00" width="1.8" height="1.2" class="xd"/>
<rect x="357.75" y="282.65" width="1.7" height="1.7" class="xd"/>
<rect x="357.70" y="285.00" width="1.8" height="1.2" class="xd"/>
<rect x="364.75" y="282.65" width="1.7" height="1.7" class="xd"/>
<rect x="364.70" y="285.00" width="1.8" height="1.2" class="xd"/>
<rect x="371.75" y="282.65" width="1.7" height="1.7" class="xd"/>
<rect x="371.70" y="285.00" width="1.8" height="1.2" class="xd"/>
<rect x="371.80" y="286.50" width="1.6" height="2.8" class="xd"/>
<rect x="378.75" y="282.65" width="1.7" height="1.7" class="xd"/>
<rect x="378.70" y="285.00" width="1.8" height="1.2" class="xd"/>
<rect x="385.75" y="282.65" width="1.7" height="1.7" class="xd"/>
<rect x="385.70" y="285.00" width="1.8" height="1.2" class="xd"/>
<rect x="392.75" y="282.65" width="1.7" height="1.7" class="xd"/>
<rect x="392.70" y="285.00" width="1.8" height="1.2" class="xd"/>
<rect x="399.75" y="282.65" width="1.7" height="1.7" class="xd"/>
<rect x="399.70" y="285.00" width="1.8" height="1.2" class="xd"/>
<rect x="406.75" y="282.65" width="1.7" height="1.7" class="xd"/>
<rect x="406.70" y="285.00" width="1.8" height="1.2" class="xd"/>
<rect x="413.75" y="282.65" width="1.7" height="1.7" class="xd"/>
<rect x="413.70" y="285.00" width="1.8" height="1.2" class="xd"/>
<text x="327.15" y="253.30" class="pc" text-anchor="middle">%</text>
<text transform="translate(366.70,251.95) scale(0.91,1)" class="ti" text-anchor="middle">V4</text>
<line x1="434.4" y1="242" x2="434.4" y2="281.5" stroke="#777" stroke-width="0.6"/>
<line x1="434.4" y1="281" x2="516" y2="281" stroke="#555" stroke-width="1.0"/>
<line x1="433.4" y1="243.40" x2="434.4" y2="243.40" stroke="#777" stroke-width="0.5"/>
<text transform="translate(431.60,243.40) rotate(-90)" class="yt">100</text>
<line x1="433.4" y1="250.92" x2="434.4" y2="250.92" stroke="#777" stroke-width="0.5"/>
<text transform="translate(431.60,250.92) rotate(-90)" class="yt">80</text>
<line x1="433.4" y1="258.44" x2="434.4" y2="258.44" stroke="#777" stroke-width="0.5"/>
<text transform="translate(431.60,258.44) rotate(-90)" class="yt">60</text>
<line x1="433.4" y1="265.96" x2="434.4" y2="265.96" stroke="#777" stroke-width="0.5"/>
<text transform="translate(431.60,265.96) rotate(-90)" class="yt">40</text>
<line x1="433.4" y1="273.48" x2="434.4" y2="273.48" stroke="#777" stroke-width="0.5"/>
<text transform="translate(431.60,273.48) rotate(-90)" class="yt">20</text>
<line x1="433.4" y1="281.00" x2="434.4" y2="281.00" stroke="#777" stroke-width="0.5"/>
<text transform="translate(431.60,281.00) rotate(-90)" class="yt">0</text>
<rect x="454.55" y="243" width="4.6" height="38.00" fill="#000"/>
<rect x="436.05" y="283.75" width="1.7" height="1.7" class="xd"/>
<rect x="436.00" y="288.30" width="1.8" height="1.2" class="xd"/>
<rect x="436.10" y="291.10" width="1.6" height="2.8" class="xd"/>
<rect x="442.40" y="283.75" width="1.7" height="1.7" class="xd"/>
<rect x="442.35" y="288.30" width="1.8" height="1.2" class="xd"/>
<rect x="448.75" y="283.75" width="1.7" height="1.7" class="xd"/>
<rect x="448.70" y="288.30" width="1.8" height="1.2" class="xd"/>
<rect x="455.10" y="283.75" width="1.7" height="1.7" class="xd"/>
<rect x="455.05" y="288.30" width="1.8" height="1.2" class="xd"/>
<rect x="461.45" y="283.75" width="1.7" height="1.7" class="xd"/>
<rect x="461.40" y="288.30" width="1.8" height="1.2" class="xd"/>
<rect x="467.80" y="283.75" width="1.7" height="1.7" class="xd"/>
<rect x="467.75" y="288.30" width="1.8" height="1.2" class="xd"/>
<rect x="474.15" y="283.75" width="1.7" height="1.7" class="xd"/>
<rect x="474.10" y="288.30" width="1.8" height="1.2" class="xd"/>
<rect x="474.20" y="291.10" width="1.6" height="2.8" class="xd"/>
<rect x="480.50" y="283.75" width="1.7" height="1.7" class="xd"/>
<rect x="480.45" y="288.30" width="1.8" height="1.2" class="xd"/>
<rect x="486.85" y="283.75" width="1.7" height="1.7" class="xd"/>
<rect x="486.80" y="288.30" width="1.8" height="1.2" class="xd"/>
<rect x="493.20" y="283.75" width="1.7" height="1.7" class="xd"/>
<rect x="493.15" y="288.30" width="1.8" height="1.2" class="xd"/>
<rect x="499.55" y="283.75" width="1.7" height="1.7" class="xd"/>
<rect x="499.50" y="288.30" width="1.8" height="1.2" class="xd"/>
<rect x="505.90" y="283.75" width="1.7" height="1.7" class="xd"/>
<rect x="505.85" y="288.30" width="1.8" height="1.2" class="xd"/>
<rect x="512.25" y="283.75" width="1.7" height="1.7" class="xd"/>
<rect x="512.20" y="288.30" width="1.8" height="1.2" class="xd"/>
<text x="434.55" y="238.15" class="pc" text-anchor="middle">%</text>
<text transform="translate(477.10,251.95) scale(0.91,1)" class="ti" text-anchor="middle">V15</text>
<line x1="223" y1="313" x2="223" y2="348.5" stroke="#777" stroke-width="0.6"/>
<line x1="223" y1="348" x2="312" y2="348" stroke="#555" stroke-width="1.0"/>
<line x1="222" y1="313.40" x2="223" y2="313.40" stroke="#777" stroke-width="0.5"/>
<text x="221.70" y="314.50" class="yt" text-anchor="end" style="font-size:3.1px">45</text>
<line x1="222" y1="317.24" x2="223" y2="317.24" stroke="#777" stroke-width="0.5"/>
<text x="221.70" y="318.34" class="yt" text-anchor="end" style="font-size:3.1px">40</text>
<line x1="222" y1="321.09" x2="223" y2="321.09" stroke="#777" stroke-width="0.5"/>
<text x="221.70" y="322.19" class="yt" text-anchor="end" style="font-size:3.1px">35</text>
<line x1="222" y1="324.93" x2="223" y2="324.93" stroke="#777" stroke-width="0.5"/>
<text x="221.70" y="326.03" class="yt" text-anchor="end" style="font-size:3.1px">30</text>
<line x1="222" y1="328.78" x2="223" y2="328.78" stroke="#777" stroke-width="0.5"/>
<text x="221.70" y="329.88" class="yt" text-anchor="end" style="font-size:3.1px">25</text>
<line x1="222" y1="332.62" x2="223" y2="332.62" stroke="#777" stroke-width="0.5"/>
<text x="221.70" y="333.72" class="yt" text-anchor="end" style="font-size:3.1px">20</text>
<line x1="222" y1="336.47" x2="223" y2="336.47" stroke="#777" stroke-width="0.5"/>
<text x="221.70" y="337.57" class="yt" text-anchor="end" style="font-size:3.1px">15</text>
<line x1="222" y1="340.31" x2="223" y2="340.31" stroke="#777" stroke-width="0.5"/>
<text x="221.70" y="341.41" class="yt" text-anchor="end" style="font-size:3.1px">10</text>
<line x1="222" y1="344.16" x2="223" y2="344.16" stroke="#777" stroke-width="0.5"/>
<text x="221.70" y="345.26" class="yt" text-anchor="end" style="font-size:3.1px">5</text>
<line x1="222" y1="348.00" x2="223" y2="348.00" stroke="#777" stroke-width="0.5"/>
<text x="221.70" y="349.10" class="yt" text-anchor="end" style="font-size:3.1px">0</text>
<rect x="224.00" y="343.6" width="5" height="4.40" fill="#000"/>
<rect x="230.70" y="346" width="5" height="2.00" fill="#000"/>
<rect x="264.20" y="324.6" width="5" height="23.40" fill="#000"/>
<rect x="277.60" y="315.4" width="5" height="32.60" fill="#000"/>
<rect x="291.00" y="342.8" width="5" height="5.20" fill="#000"/>
<rect x="297.70" y="347" width="5" height="1.00" fill="#000"/>
<rect x="304.40" y="338.8" width="5" height="9.20" fill="#000"/>
<rect x="224.85" y="350.25" width="1.7" height="1.7" class="xd"/>
<rect x="224.80" y="353.20" width="1.8" height="1.2" class="xd"/>
<rect x="224.90" y="354.90" width="1.6" height="2.8" class="xd"/>
<rect x="231.70" y="350.25" width="1.7" height="1.7" class="xd"/>
<rect x="231.65" y="353.20" width="1.8" height="1.2" class="xd"/>
<rect x="238.55" y="350.25" width="1.7" height="1.7" class="xd"/>
<rect x="238.50" y="353.20" width="1.8" height="1.2" class="xd"/>
<rect x="245.40" y="350.25" width="1.7" height="1.7" class="xd"/>
<rect x="245.35" y="353.20" width="1.8" height="1.2" class="xd"/>
<rect x="252.25" y="350.25" width="1.7" height="1.7" class="xd"/>
<rect x="252.20" y="353.20" width="1.8" height="1.2" class="xd"/>
<rect x="259.10" y="350.25" width="1.7" height="1.7" class="xd"/>
<rect x="259.05" y="353.20" width="1.8" height="1.2" class="xd"/>
<rect x="265.95" y="350.25" width="1.7" height="1.7" class="xd"/>
<rect x="265.90" y="353.20" width="1.8" height="1.2" class="xd"/>
<rect x="266.00" y="354.90" width="1.6" height="2.8" class="xd"/>
<rect x="272.80" y="350.25" width="1.7" height="1.7" class="xd"/>
<rect x="272.75" y="353.20" width="1.8" height="1.2" class="xd"/>
<rect x="279.65" y="350.25" width="1.7" height="1.7" class="xd"/>
<rect x="279.60" y="353.20" width="1.8" height="1.2" class="xd"/>
<rect x="286.50" y="350.25" width="1.7" height="1.7" class="xd"/>
<rect x="286.45" y="353.20" width="1.8" height="1.2" class="xd"/>
<rect x="293.35" y="350.25" width="1.7" height="1.7" class="xd"/>
<rect x="293.30" y="353.20" width="1.8" height="1.2" class="xd"/>
<rect x="300.20" y="350.25" width="1.7" height="1.7" class="xd"/>
<rect x="300.15" y="353.20" width="1.8" height="1.2" class="xd"/>
<rect x="307.05" y="350.25" width="1.7" height="1.7" class="xd"/>
<rect x="307.00" y="353.20" width="1.8" height="1.2" class="xd"/>
<text x="224.70" y="311.20" class="pc" text-anchor="middle">%</text>
<text transform="translate(264.25,316.20) scale(0.91,1)" class="ti" text-anchor="middle">V13</text>
<line x1="328" y1="318" x2="328" y2="345.9" stroke="#777" stroke-width="0.6"/>
<line x1="328" y1="345.4" x2="420.5" y2="345.4" stroke="#555" stroke-width="1.0"/>
<line x1="327" y1="319.40" x2="328" y2="319.40" stroke="#777" stroke-width="0.5"/>
<text x="326.70" y="320.50" class="yt" text-anchor="end" style="font-size:3.1px">30</text>
<line x1="327" y1="323.73" x2="328" y2="323.73" stroke="#777" stroke-width="0.5"/>
<text x="326.70" y="324.83" class="yt" text-anchor="end" style="font-size:3.1px">25</text>
<line x1="327" y1="328.07" x2="328" y2="328.07" stroke="#777" stroke-width="0.5"/>
<text x="326.70" y="329.17" class="yt" text-anchor="end" style="font-size:3.1px">20</text>
<line x1="327" y1="332.40" x2="328" y2="332.40" stroke="#777" stroke-width="0.5"/>
<text x="326.70" y="333.50" class="yt" text-anchor="end" style="font-size:3.1px">15</text>
<line x1="327" y1="336.73" x2="328" y2="336.73" stroke="#777" stroke-width="0.5"/>
<text x="326.70" y="337.83" class="yt" text-anchor="end" style="font-size:3.1px">10</text>
<line x1="327" y1="341.07" x2="328" y2="341.07" stroke="#777" stroke-width="0.5"/>
<text x="326.70" y="342.17" class="yt" text-anchor="end" style="font-size:3.1px">5</text>
<line x1="327" y1="345.40" x2="328" y2="345.40" stroke="#777" stroke-width="0.5"/>
<text x="326.70" y="346.50" class="yt" text-anchor="end" style="font-size:3.1px">0</text>
<rect x="329.40" y="319.6" width="5" height="25.80" fill="#000"/>
<rect x="336.55" y="337.6" width="5" height="7.80" fill="#000"/>
<rect x="343.70" y="329.8" width="5" height="15.60" fill="#000"/>
<rect x="358.00" y="341.8" width="5" height="3.60" fill="#000"/>
<rect x="365.15" y="332" width="5" height="13.40" fill="#000"/>
<rect x="372.30" y="340.3" width="5" height="5.10" fill="#000"/>
<rect x="386.60" y="339.0" width="5" height="6.40" fill="#000"/>
<rect x="408.05" y="339.0" width="5" height="6.40" fill="#000"/>
<rect x="415.20" y="344.2" width="5" height="1.20" fill="#000"/>
<rect x="329.95" y="347.85" width="1.7" height="1.7" class="xd"/>
<rect x="329.90" y="350.50" width="1.8" height="1.2" class="xd"/>
<rect x="330.00" y="352.70" width="1.6" height="2.8" class="xd"/>
<rect x="337.15" y="347.85" width="1.7" height="1.7" class="xd"/>
<rect x="337.10" y="350.50" width="1.8" height="1.2" class="xd"/>
<rect x="344.35" y="347.85" width="1.7" height="1.7" class="xd"/>
<rect x="344.30" y="350.50" width="1.8" height="1.2" class="xd"/>
<rect x="351.55" y="347.85" width="1.7" height="1.7" class="xd"/>
<rect x="351.50" y="350.50" width="1.8" height="1.2" class="xd"/>
<rect x="358.75" y="347.85" width="1.7" height="1.7" class="xd"/>
<rect x="358.70" y="350.50" width="1.8" height="1.2" class="xd"/>
<rect x="365.95" y="347.85" width="1.7" height="1.7" class="xd"/>
<rect x="365.90" y="350.50" width="1.8" height="1.2" class="xd"/>
<rect x="373.15" y="347.85" width="1.7" height="1.7" class="xd"/>
<rect x="373.10" y="350.50" width="1.8" height="1.2" class="xd"/>
<rect x="373.20" y="352.70" width="1.6" height="2.8" class="xd"/>
<rect x="380.35" y="347.85" width="1.7" height="1.7" class="xd"/>
<rect x="380.30" y="350.50" width="1.8" height="1.2" class="xd"/>
<rect x="387.55" y="347.85" width="1.7" height="1.7" class="xd"/>
<rect x="387.50" y="350.50" width="1.8" height="1.2" class="xd"/>
<rect x="394.75" y="347.85" width="1.7" height="1.7" class="xd"/>
<rect x="394.70" y="350.50" width="1.8" height="1.2" class="xd"/>
<rect x="401.95" y="347.85" width="1.7" height="1.7" class="xd"/>
<rect x="401.90" y="350.50" width="1.8" height="1.2" class="xd"/>
<rect x="409.15" y="347.85" width="1.7" height="1.7" class="xd"/>
<rect x="409.10" y="350.50" width="1.8" height="1.2" class="xd"/>
<rect x="416.35" y="347.85" width="1.7" height="1.7" class="xd"/>
<rect x="416.30" y="350.50" width="1.8" height="1.2" class="xd"/>
<text x="327.10" y="313.25" class="pc" text-anchor="middle">%</text>
<text transform="translate(367.00,315.95) scale(0.91,1)" class="ti" text-anchor="middle">V3</text>
<line x1="25.4" y1="71" x2="25.4" y2="108.1" stroke="#777" stroke-width="0.6"/>
<line x1="25.4" y1="107.6" x2="109.4" y2="107.6" stroke="#555" stroke-width="1.0"/>
<line x1="24.4" y1="71.60" x2="25.4" y2="71.60" stroke="#777" stroke-width="0.5"/>
<text transform="translate(22.60,71.60) rotate(-90)" class="yt">60</text>
<line x1="24.4" y1="77.60" x2="25.4" y2="77.60" stroke="#777" stroke-width="0.5"/>
<text transform="translate(22.60,77.60) rotate(-90)" class="yt">50</text>
<line x1="24.4" y1="83.60" x2="25.4" y2="83.60" stroke="#777" stroke-width="0.5"/>
<text transform="translate(22.60,83.60) rotate(-90)" class="yt">40</text>
<line x1="24.4" y1="89.60" x2="25.4" y2="89.60" stroke="#777" stroke-width="0.5"/>
<text transform="translate(22.60,89.60) rotate(-90)" class="yt">30</text>
<line x1="24.4" y1="95.60" x2="25.4" y2="95.60" stroke="#777" stroke-width="0.5"/>
<text transform="translate(22.60,95.60) rotate(-90)" class="yt">20</text>
<line x1="24.4" y1="101.60" x2="25.4" y2="101.60" stroke="#777" stroke-width="0.5"/>
<text transform="translate(22.60,101.60) rotate(-90)" class="yt">10</text>
<line x1="24.4" y1="107.60" x2="25.4" y2="107.60" stroke="#777" stroke-width="0.5"/>
<text transform="translate(22.60,107.60) rotate(-90)" class="yt">0</text>
<rect x="45.55" y="105.4" width="4.5" height="2.20" fill="#000"/>
<rect x="52.05" y="92.6" width="4.5" height="15.00" fill="#000"/>
<rect x="58.55" y="73.6" width="4.5" height="34.00" fill="#000"/>
<rect x="78.05" y="105" width="4.5" height="2.60" fill="#000"/>
<rect x="91.05" y="100" width="4.5" height="7.60" fill="#000"/>
<rect x="26.45" y="110.55" width="1.7" height="1.7" class="xd"/>
<rect x="26.40" y="115.00" width="1.8" height="1.2" class="xd"/>
<rect x="26.50" y="117.40" width="1.6" height="2.8" class="xd"/>
<rect x="33.01" y="110.55" width="1.7" height="1.7" class="xd"/>
<rect x="32.96" y="115.00" width="1.8" height="1.2" class="xd"/>
<rect x="39.57" y="110.55" width="1.7" height="1.7" class="xd"/>
<rect x="39.52" y="115.00" width="1.8" height="1.2" class="xd"/>
<rect x="46.13" y="110.55" width="1.7" height="1.7" class="xd"/>
<rect x="46.08" y="115.00" width="1.8" height="1.2" class="xd"/>
<rect x="52.69" y="110.55" width="1.7" height="1.7" class="xd"/>
<rect x="52.64" y="115.00" width="1.8" height="1.2" class="xd"/>
<rect x="59.25" y="110.55" width="1.7" height="1.7" class="xd"/>
<rect x="59.20" y="115.00" width="1.8" height="1.2" class="xd"/>
<rect x="65.81" y="110.55" width="1.7" height="1.7" class="xd"/>
<rect x="65.76" y="115.00" width="1.8" height="1.2" class="xd"/>
<rect x="65.86" y="117.40" width="1.6" height="2.8" class="xd"/>
<rect x="72.37" y="110.55" width="1.7" height="1.7" class="xd"/>
<rect x="72.32" y="115.00" width="1.8" height="1.2" class="xd"/>
<rect x="78.93" y="110.55" width="1.7" height="1.7" class="xd"/>
<rect x="78.88" y="115.00" width="1.8" height="1.2" class="xd"/>
<rect x="85.49" y="110.55" width="1.7" height="1.7" class="xd"/>
<rect x="85.44" y="115.00" width="1.8" height="1.2" class="xd"/>
<rect x="92.05" y="110.55" width="1.7" height="1.7" class="xd"/>
<rect x="92.00" y="115.00" width="1.8" height="1.2" class="xd"/>
<rect x="98.61" y="110.55" width="1.7" height="1.7" class="xd"/>
<rect x="98.56" y="115.00" width="1.8" height="1.2" class="xd"/>
<rect x="105.17" y="110.55" width="1.7" height="1.7" class="xd"/>
<rect x="105.12" y="115.00" width="1.8" height="1.2" class="xd"/>
<text x="25.70" y="67.80" class="pc" text-anchor="middle">%</text>
<text transform="translate(75.95,78.20) scale(0.91,1)" class="ti" text-anchor="middle">V5a</text>
<line x1="119.6" y1="71" x2="119.6" y2="107.9" stroke="#777" stroke-width="0.6"/>
<line x1="119.6" y1="107.4" x2="205" y2="107.4" stroke="#555" stroke-width="1.0"/>
<line x1="118.6" y1="72.40" x2="119.6" y2="72.40" stroke="#777" stroke-width="0.5"/>
<text transform="translate(116.80,72.40) rotate(-90)" class="yt">80</text>
<line x1="118.6" y1="81.15" x2="119.6" y2="81.15" stroke="#777" stroke-width="0.5"/>
<text transform="translate(116.80,81.15) rotate(-90)" class="yt">60</text>
<line x1="118.6" y1="89.90" x2="119.6" y2="89.90" stroke="#777" stroke-width="0.5"/>
<text transform="translate(116.80,89.90) rotate(-90)" class="yt">40</text>
<line x1="118.6" y1="98.65" x2="119.6" y2="98.65" stroke="#777" stroke-width="0.5"/>
<text transform="translate(116.80,98.65) rotate(-90)" class="yt">20</text>
<line x1="118.6" y1="107.40" x2="119.6" y2="107.40" stroke="#777" stroke-width="0.5"/>
<text transform="translate(116.80,107.40) rotate(-90)" class="yt">0</text>
<rect x="119.95" y="101.6" width="4.5" height="5.80" fill="#000"/>
<rect x="126.55" y="75" width="4.5" height="32.40" fill="#000"/>
<rect x="152.95" y="102" width="4.5" height="5.40" fill="#000"/>
<rect x="120.15" y="110.35" width="1.7" height="1.7" class="xd"/>
<rect x="120.10" y="114.60" width="1.8" height="1.2" class="xd"/>
<rect x="120.20" y="118.00" width="1.6" height="2.8" class="xd"/>
<rect x="126.82" y="110.35" width="1.7" height="1.7" class="xd"/>
<rect x="126.77" y="114.60" width="1.8" height="1.2" class="xd"/>
<rect x="133.49" y="110.35" width="1.7" height="1.7" class="xd"/>
<rect x="133.44" y="114.60" width="1.8" height="1.2" class="xd"/>
<rect x="140.16" y="110.35" width="1.7" height="1.7" class="xd"/>
<rect x="140.11" y="114.60" width="1.8" height="1.2" class="xd"/>
<rect x="146.83" y="110.35" width="1.7" height="1.7" class="xd"/>
<rect x="146.78" y="114.60" width="1.8" height="1.2" class="xd"/>
<rect x="153.50" y="110.35" width="1.7" height="1.7" class="xd"/>
<rect x="153.45" y="114.60" width="1.8" height="1.2" class="xd"/>
<rect x="160.17" y="110.35" width="1.7" height="1.7" class="xd"/>
<rect x="160.12" y="114.60" width="1.8" height="1.2" class="xd"/>
<rect x="160.22" y="118.00" width="1.6" height="2.8" class="xd"/>
<rect x="166.84" y="110.35" width="1.7" height="1.7" class="xd"/>
<rect x="166.79" y="114.60" width="1.8" height="1.2" class="xd"/>
<rect x="173.51" y="110.35" width="1.7" height="1.7" class="xd"/>
<rect x="173.46" y="114.60" width="1.8" height="1.2" class="xd"/>
<rect x="180.18" y="110.35" width="1.7" height="1.7" class="xd"/>
<rect x="180.13" y="114.60" width="1.8" height="1.2" class="xd"/>
<rect x="186.85" y="110.35" width="1.7" height="1.7" class="xd"/>
<rect x="186.80" y="114.60" width="1.8" height="1.2" class="xd"/>
<rect x="193.52" y="110.35" width="1.7" height="1.7" class="xd"/>
<rect x="193.47" y="114.60" width="1.8" height="1.2" class="xd"/>
<rect x="200.19" y="110.35" width="1.7" height="1.7" class="xd"/>
<rect x="200.14" y="114.60" width="1.8" height="1.2" class="xd"/>
<text x="118.70" y="67.20" class="pc" text-anchor="middle">%</text>
<text transform="translate(155.15,79.25) scale(0.91,1)" class="ti" text-anchor="middle">V5b</text>
<line x1="26" y1="237" x2="26" y2="281.5" stroke="#777" stroke-width="0.6"/>
<line x1="26" y1="281" x2="105" y2="281" stroke="#555" stroke-width="1.0"/>
<line x1="25" y1="237.60" x2="26" y2="237.60" stroke="#777" stroke-width="0.5"/>
<text transform="translate(23.20,237.60) rotate(-90)" class="yt">100</text>
<line x1="25" y1="246.28" x2="26" y2="246.28" stroke="#777" stroke-width="0.5"/>
<text transform="translate(23.20,246.28) rotate(-90)" class="yt">80</text>
<line x1="25" y1="254.96" x2="26" y2="254.96" stroke="#777" stroke-width="0.5"/>
<text transform="translate(23.20,254.96) rotate(-90)" class="yt">60</text>
<line x1="25" y1="263.64" x2="26" y2="263.64" stroke="#777" stroke-width="0.5"/>
<text transform="translate(23.20,263.64) rotate(-90)" class="yt">40</text>
<line x1="25" y1="272.32" x2="26" y2="272.32" stroke="#777" stroke-width="0.5"/>
<text transform="translate(23.20,272.32) rotate(-90)" class="yt">20</text>
<line x1="25" y1="281.00" x2="26" y2="281.00" stroke="#777" stroke-width="0.5"/>
<text transform="translate(23.20,281.00) rotate(-90)" class="yt">0</text>
<rect x="26.70" y="239.6" width="4.6" height="41.40" fill="#000"/>
<rect x="45.00" y="280.5" width="4.6" height="0.50" fill="#000"/>
<rect x="27.65" y="284.95" width="1.7" height="1.7" class="xd"/>
<rect x="27.60" y="290.60" width="1.8" height="1.2" class="xd"/>
<rect x="27.70" y="293.30" width="1.6" height="2.8" class="xd"/>
<rect x="33.72" y="284.95" width="1.7" height="1.7" class="xd"/>
<rect x="33.67" y="290.60" width="1.8" height="1.2" class="xd"/>
<rect x="39.79" y="284.95" width="1.7" height="1.7" class="xd"/>
<rect x="39.74" y="290.60" width="1.8" height="1.2" class="xd"/>
<rect x="45.86" y="284.95" width="1.7" height="1.7" class="xd"/>
<rect x="45.81" y="290.60" width="1.8" height="1.2" class="xd"/>
<rect x="51.93" y="284.95" width="1.7" height="1.7" class="xd"/>
<rect x="51.88" y="290.60" width="1.8" height="1.2" class="xd"/>
<rect x="58.00" y="284.95" width="1.7" height="1.7" class="xd"/>
<rect x="57.95" y="290.60" width="1.8" height="1.2" class="xd"/>
<rect x="64.07" y="284.95" width="1.7" height="1.7" class="xd"/>
<rect x="64.02" y="290.60" width="1.8" height="1.2" class="xd"/>
<rect x="64.12" y="293.30" width="1.6" height="2.8" class="xd"/>
<rect x="70.14" y="284.95" width="1.7" height="1.7" class="xd"/>
<rect x="70.09" y="290.60" width="1.8" height="1.2" class="xd"/>
<rect x="76.21" y="284.95" width="1.7" height="1.7" class="xd"/>
<rect x="76.16" y="290.60" width="1.8" height="1.2" class="xd"/>
<rect x="82.28" y="284.95" width="1.7" height="1.7" class="xd"/>
<rect x="82.23" y="290.60" width="1.8" height="1.2" class="xd"/>
<rect x="88.35" y="284.95" width="1.7" height="1.7" class="xd"/>
<rect x="88.30" y="290.60" width="1.8" height="1.2" class="xd"/>
<rect x="94.42" y="284.95" width="1.7" height="1.7" class="xd"/>
<rect x="94.37" y="290.60" width="1.8" height="1.2" class="xd"/>
<rect x="100.49" y="284.95" width="1.7" height="1.7" class="xd"/>
<rect x="100.44" y="290.60" width="1.8" height="1.2" class="xd"/>
<text x="24.10" y="231.20" class="pc" text-anchor="middle">%</text>
<text transform="translate(64.25,252.90) scale(0.91,1)" class="ti" text-anchor="middle">V6</text>
<line x1="119.4" y1="247" x2="119.4" y2="281.5" stroke="#777" stroke-width="0.6"/>
<line x1="119.4" y1="281" x2="206.6" y2="281" stroke="#555" stroke-width="1.0"/>
<line x1="118.4" y1="247.60" x2="119.4" y2="247.60" stroke="#777" stroke-width="0.5"/>
<text transform="translate(116.60,247.60) rotate(-90)" class="yt">35</text>
<line x1="118.4" y1="252.37" x2="119.4" y2="252.37" stroke="#777" stroke-width="0.5"/>
<text transform="translate(116.60,252.37) rotate(-90)" class="yt">30</text>
<line x1="118.4" y1="257.14" x2="119.4" y2="257.14" stroke="#777" stroke-width="0.5"/>
<text transform="translate(116.60,257.14) rotate(-90)" class="yt">25</text>
<line x1="118.4" y1="261.91" x2="119.4" y2="261.91" stroke="#777" stroke-width="0.5"/>
<text transform="translate(116.60,261.91) rotate(-90)" class="yt">20</text>
<line x1="118.4" y1="266.69" x2="119.4" y2="266.69" stroke="#777" stroke-width="0.5"/>
<text transform="translate(116.60,266.69) rotate(-90)" class="yt">15</text>
<line x1="118.4" y1="271.46" x2="119.4" y2="271.46" stroke="#777" stroke-width="0.5"/>
<text transform="translate(116.60,271.46) rotate(-90)" class="yt">10</text>
<line x1="118.4" y1="276.23" x2="119.4" y2="276.23" stroke="#777" stroke-width="0.5"/>
<text transform="translate(116.60,276.23) rotate(-90)" class="yt">5</text>
<line x1="118.4" y1="281.00" x2="119.4" y2="281.00" stroke="#777" stroke-width="0.5"/>
<text transform="translate(116.60,281.00) rotate(-90)" class="yt">0</text>
<rect x="120.00" y="270.6" width="4.6" height="10.40" fill="#000"/>
<rect x="126.75" y="264.2" width="4.6" height="16.80" fill="#000"/>
<rect x="133.50" y="250" width="4.6" height="31.00" fill="#000"/>
<rect x="140.25" y="280.2" width="4.6" height="0.80" fill="#000"/>
<rect x="147.00" y="269.4" width="4.6" height="11.60" fill="#000"/>
<rect x="153.75" y="259.2" width="4.6" height="21.80" fill="#000"/>
<rect x="121.15" y="284.15" width="1.7" height="1.7" class="xd"/>
<rect x="121.10" y="288.20" width="1.8" height="1.2" class="xd"/>
<rect x="121.20" y="290.80" width="1.6" height="2.8" class="xd"/>
<rect x="127.90" y="284.15" width="1.7" height="1.7" class="xd"/>
<rect x="127.85" y="288.20" width="1.8" height="1.2" class="xd"/>
<rect x="134.65" y="284.15" width="1.7" height="1.7" class="xd"/>
<rect x="134.60" y="288.20" width="1.8" height="1.2" class="xd"/>
<rect x="141.40" y="284.15" width="1.7" height="1.7" class="xd"/>
<rect x="141.35" y="288.20" width="1.8" height="1.2" class="xd"/>
<rect x="148.15" y="284.15" width="1.7" height="1.7" class="xd"/>
<rect x="148.10" y="288.20" width="1.8" height="1.2" class="xd"/>
<rect x="154.90" y="284.15" width="1.7" height="1.7" class="xd"/>
<rect x="154.85" y="288.20" width="1.8" height="1.2" class="xd"/>
<rect x="161.65" y="284.15" width="1.7" height="1.7" class="xd"/>
<rect x="161.60" y="288.20" width="1.8" height="1.2" class="xd"/>
<rect x="161.70" y="290.80" width="1.6" height="2.8" class="xd"/>
<rect x="168.40" y="284.15" width="1.7" height="1.7" class="xd"/>
<rect x="168.35" y="288.20" width="1.8" height="1.2" class="xd"/>
<rect x="175.15" y="284.15" width="1.7" height="1.7" class="xd"/>
<rect x="175.10" y="288.20" width="1.8" height="1.2" class="xd"/>
<rect x="181.90" y="284.15" width="1.7" height="1.7" class="xd"/>
<rect x="181.85" y="288.20" width="1.8" height="1.2" class="xd"/>
<rect x="188.65" y="284.15" width="1.7" height="1.7" class="xd"/>
<rect x="188.60" y="288.20" width="1.8" height="1.2" class="xd"/>
<rect x="195.40" y="284.15" width="1.7" height="1.7" class="xd"/>
<rect x="195.35" y="288.20" width="1.8" height="1.2" class="xd"/>
<rect x="202.15" y="284.15" width="1.7" height="1.7" class="xd"/>
<rect x="202.10" y="288.20" width="1.8" height="1.2" class="xd"/>
<text x="119.50" y="243.45" class="pc" text-anchor="middle">%</text>
<text transform="translate(156.95,253.35) scale(0.91,1)" class="ti" text-anchor="middle">V13</text>
<line x1="27.7" y1="302.7" x2="27.7" y2="345.9" stroke="#777" stroke-width="0.6"/>
<line x1="27.7" y1="345.4" x2="107.3" y2="345.4" stroke="#555" stroke-width="1.0"/>
<line x1="26.7" y1="303.50" x2="27.7" y2="303.50" stroke="#777" stroke-width="0.5"/>
<text transform="translate(24.90,303.50) rotate(-90)" class="yt">100</text>
<line x1="26.7" y1="311.88" x2="27.7" y2="311.88" stroke="#777" stroke-width="0.5"/>
<text transform="translate(24.90,311.88) rotate(-90)" class="yt">80</text>
<line x1="26.7" y1="320.26" x2="27.7" y2="320.26" stroke="#777" stroke-width="0.5"/>
<text transform="translate(24.90,320.26) rotate(-90)" class="yt">60</text>
<line x1="26.7" y1="328.64" x2="27.7" y2="328.64" stroke="#777" stroke-width="0.5"/>
<text transform="translate(24.90,328.64) rotate(-90)" class="yt">40</text>
<line x1="26.7" y1="337.02" x2="27.7" y2="337.02" stroke="#777" stroke-width="0.5"/>
<text transform="translate(24.90,337.02) rotate(-90)" class="yt">20</text>
<line x1="26.7" y1="345.40" x2="27.7" y2="345.40" stroke="#777" stroke-width="0.5"/>
<text transform="translate(24.90,345.40) rotate(-90)" class="yt">0</text>
<rect x="28.00" y="309.6" width="4.4" height="35.80" fill="#000"/>
<rect x="40.40" y="344.5" width="4.4" height="0.90" fill="#000"/>
<rect x="77.60" y="344.5" width="4.4" height="0.90" fill="#000"/>
<rect x="29.05" y="348.55" width="1.7" height="1.7" class="xd"/>
<rect x="29.00" y="354.30" width="1.8" height="1.2" class="xd"/>
<rect x="29.10" y="356.70" width="1.6" height="2.8" class="xd"/>
<rect x="35.15" y="348.55" width="1.7" height="1.7" class="xd"/>
<rect x="35.10" y="354.30" width="1.8" height="1.2" class="xd"/>
<rect x="41.25" y="348.55" width="1.7" height="1.7" class="xd"/>
<rect x="41.20" y="354.30" width="1.8" height="1.2" class="xd"/>
<rect x="47.35" y="348.55" width="1.7" height="1.7" class="xd"/>
<rect x="47.30" y="354.30" width="1.8" height="1.2" class="xd"/>
<rect x="53.45" y="348.55" width="1.7" height="1.7" class="xd"/>
<rect x="53.40" y="354.30" width="1.8" height="1.2" class="xd"/>
<rect x="59.55" y="348.55" width="1.7" height="1.7" class="xd"/>
<rect x="59.50" y="354.30" width="1.8" height="1.2" class="xd"/>
<rect x="65.65" y="348.55" width="1.7" height="1.7" class="xd"/>
<rect x="65.60" y="354.30" width="1.8" height="1.2" class="xd"/>
<rect x="65.70" y="356.70" width="1.6" height="2.8" class="xd"/>
<rect x="71.75" y="348.55" width="1.7" height="1.7" class="xd"/>
<rect x="71.70" y="354.30" width="1.8" height="1.2" class="xd"/>
<rect x="77.85" y="348.55" width="1.7" height="1.7" class="xd"/>
<rect x="77.80" y="354.30" width="1.8" height="1.2" class="xd"/>
<rect x="83.95" y="348.55" width="1.7" height="1.7" class="xd"/>
<rect x="83.90" y="354.30" width="1.8" height="1.2" class="xd"/>
<rect x="90.05" y="348.55" width="1.7" height="1.7" class="xd"/>
<rect x="90.00" y="354.30" width="1.8" height="1.2" class="xd"/>
<rect x="96.15" y="348.55" width="1.7" height="1.7" class="xd"/>
<rect x="96.10" y="354.30" width="1.8" height="1.2" class="xd"/>
<rect x="102.25" y="348.55" width="1.7" height="1.7" class="xd"/>
<rect x="102.20" y="354.30" width="1.8" height="1.2" class="xd"/>
<text x="32.45" y="305.55" class="pc" text-anchor="middle">%</text>
<text transform="translate(67.05,316.95) scale(0.91,1)" class="ti" text-anchor="middle">V6</text>
</svg>
</body></html>
